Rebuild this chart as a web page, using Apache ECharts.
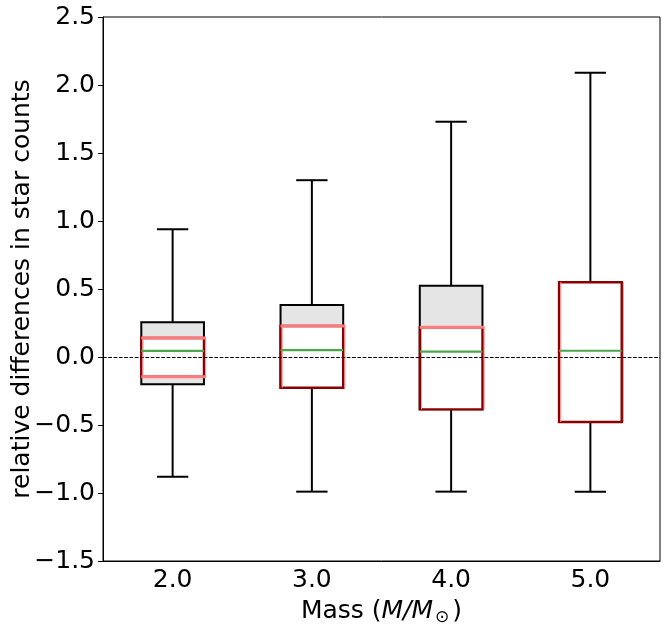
<!DOCTYPE html>
<html>
<head>
<meta charset="utf-8">
<script src="https://cdn.jsdelivr.net/npm/echarts@6/dist/echarts.min.js"></script>
<style>
html,body{margin:0;padding:0;background:#fff;}
#main{width:671px;height:630px;}
</style>
</head>
<body>
<div id="main"></div>
<script>
// masses (categories)
var categories = ['2.0', '3.0', '4.0', '5.0'];
// black boxplot: whiskers, quartiles, median
var whiskerLow  = [-0.88, -0.99, -0.99, -0.99];
var q1          = [-0.20, -0.226, -0.385, -0.478];
var median      = [0.045, 0.051, 0.039, 0.046];
var q3          = [0.255, 0.382, 0.524, 0.55];
var whiskerHigh = [0.94, 1.30, 1.73, 2.09];
// dark red box
var redLow  = [-0.145, -0.226, -0.385, -0.478];
var redHigh = [0.14, 0.228, 0.218, 0.55];
// light red edges (null where hidden)
var lightTop    = [0.14, 0.228, 0.218, null];
var lightBottom = [-0.145, null, null, null];

var fontName = 'DejaVu Sans';

var boxData = [];
for (var i = 0; i < categories.length; i++) {
	boxData.push([i, whiskerLow[i], q1[i], median[i], q3[i], whiskerHigh[i],
		redLow[i], redHigh[i],
		lightTop[i] == null ? '-' : lightTop[i],
		lightBottom[i] == null ? '-' : lightBottom[i]]);
}

function renderBox(params, api) {
	var x = api.value(0);
	var w = api.size([1, 0])[0] * 0.45;
	var c = api.coord([x, 0])[0];
	var y = function (v) { return api.coord([x, v])[1]; };
	var black = { stroke: '#000', lineWidth: 2 };
	var kids = [];
	// whiskers
	kids.push({ type: 'line', shape: { x1: c, y1: y(api.value(1)), x2: c, y2: y(api.value(2)) }, style: black });
	kids.push({ type: 'line', shape: { x1: c, y1: y(api.value(4)), x2: c, y2: y(api.value(5)) }, style: black });
	kids.push({ type: 'line', shape: { x1: c - w / 4, y1: y(api.value(1)), x2: c + w / 4, y2: y(api.value(1)) }, style: black });
	kids.push({ type: 'line', shape: { x1: c - w / 4, y1: y(api.value(5)), x2: c + w / 4, y2: y(api.value(5)) }, style: black });
	// black box
	var t = y(api.value(4)), b = y(api.value(2));
	kids.push({ type: 'rect', shape: { x: c - w / 2, y: t, width: w, height: b - t },
		style: { fill: '#e5e5e5', stroke: '#000', lineWidth: 2 } });
	// dark red box
	var rt = y(api.value(7)), rb = y(api.value(6));
	kids.push({ type: 'rect', shape: { x: c - w / 2, y: rt, width: w, height: rb - rt },
		style: { fill: '#fff', stroke: '#8b0000', lineWidth: 2.4 } });
	kids.push({ type: 'line', shape: { x1: c + w / 2 + 1.7, y1: rt, x2: c + w / 2 + 1.7, y2: rb },
		style: { stroke: '#ff9090', lineWidth: 1 } });
	kids.push({ type: 'line', shape: { x1: c - w / 2 + 1.7, y1: rt, x2: c - w / 2 + 1.7, y2: rb },
		style: { stroke: '#ff9090', lineWidth: 1 } });
	// light red edges
	[8, 9].forEach(function (k) {
		var v = api.value(k);
		if (!isNaN(v)) {
			kids.push({ type: 'line', shape: { x1: c - w / 2, y1: y(v), x2: c + w / 2 + 2, y2: y(v) },
				style: { stroke: '#ff7b7b', lineWidth: 3 } });
		}
	});
	// median
	kids.push({ type: 'line', shape: { x1: c - w / 2, y1: y(api.value(3)), x2: c + w / 2, y2: y(api.value(3)) },
		style: { stroke: '#4ca64c', lineWidth: 2.2 } });
	return { type: 'group', children: kids };
}

var myChart = echarts.init(document.getElementById('main'));
var option = {
	animation: false,
	grid: { left: 103, right: 11, top: 17, bottom: 69, show: true, borderColor: '#000', borderWidth: 1,
		outerBoundsMode: 'none' },
	xAxis: {
		type: 'category',
		data: categories,
		boundaryGap: true,
		axisLine: { show: true, onZero: false, lineStyle: { color: '#000', width: 1 } },
		axisTick: { alignWithLabel: true, length: 5, lineStyle: { color: '#000' } },
		axisLabel: { color: '#000', fontSize: 25, fontFamily: fontName, margin: 7 },
		name: '{n|Mass (}{i|M/M}{s|⊙}{n|)}',
		nameLocation: 'middle',
		nameGap: 36,
		nameMoveOverlap: false,
		nameTextStyle: {
			rich: {
				n: { fontSize: 25, fontFamily: fontName, color: '#000' },
				i: { fontSize: 25, fontFamily: fontName, fontStyle: 'italic', color: '#000' },
				s: { fontSize: 17, fontFamily: fontName, color: '#000', padding: [12, 3, 0, 2] }
			}
		}
	},
	yAxis: {
		type: 'value',
		min: -1.5,
		max: 2.5,
		interval: 0.5,
		splitLine: { show: false },
		axisLine: { show: true, lineStyle: { color: '#000', width: 1 } },
		axisTick: { show: true, length: 5, lineStyle: { color: '#000' } },
		axisLabel: {
			color: '#000', fontSize: 25, fontFamily: fontName, margin: 8,
			formatter: function (v) { return v.toFixed(1).replace('-', '\u2212'); }
		},
		name: 'relative differences in star counts',
		nameLocation: 'middle',
		nameGap: 68,
		nameMoveOverlap: false,
		nameTextStyle: { color: '#000', fontSize: 25, fontFamily: fontName }
	},
	series: [
		{ type: 'custom', renderItem: renderBox, data: boxData, z: 2 },
		{
			type: 'line', data: [], z: 5,
			markLine: {
				silent: true, symbol: 'none', label: { show: false },
				lineStyle: { color: '#000', type: [3.7, 1.6], width: 1 },
				data: [{ yAxis: 0 }]
			}
		}
	]
};
myChart.setOption(option);
</script>
</body>
</html>
